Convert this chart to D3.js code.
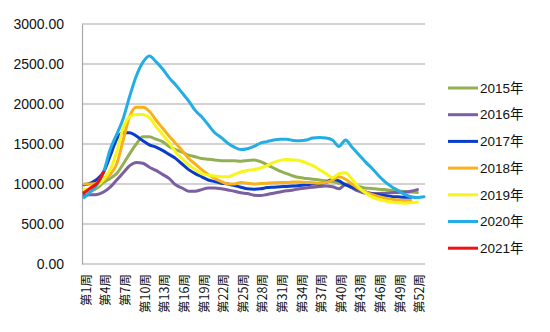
<!DOCTYPE html>
<html><head><meta charset="utf-8">
<script src="https://cdn.jsdelivr.net/npm/d3@7"></script>
<style>
html,body{margin:0;padding:0;background:#fff;}
svg{display:block;font-family:"Liberation Sans",Arial,sans-serif;}
</style></head>
<body>
<svg id="chart" width="550" height="332"></svg>
<script>
const weeks = d3.range(1, 54).map(w => "第" + w + "周");
const tickLabels = d3.range(1, 53, 3).map(w => "第" + w + "周");
const yTicks = [0, 500, 1000, 1500, 2000, 2500, 3000];
const seriesNames = ["2015年","2016年","2017年","2018年","2019年","2020年","2021年"];
const seriesColors = ["#92b051","#7b5fa0","#0a3ccc","#f9b11b","#f7f51a","#22aee4","#ee1111"];

const s2015 = [900,910,950,1020,1070,1130,1250,1380,1500,1590,1590,1560,1530,1470,1430,1400,1360,1340,1320,1310,1300,1290,1290,1290,1285,1295,1300,1280,1240,1200,1160,1130,1100,1080,1070,1060,1050,1040,1030,1010,1000,990,970,950,945,935,930,920,915,905,900,895];
const s2016 = [860,865,870,900,960,1050,1140,1230,1270,1260,1210,1170,1120,1070,990,950,910,910,930,950,950,940,925,910,890,880,860,855,870,885,900,915,925,940,950,960,970,975,965,940,995,950,910,885,880,880,885,890,895,900,910,930];
const s2017 = [990,1010,1060,1150,1350,1560,1640,1640,1600,1540,1490,1460,1420,1370,1320,1250,1180,1130,1090,1050,1030,1010,1000,980,960,940,935,940,955,960,965,970,975,980,990,1000,1000,1020,1060,1040,990,960,930,900,880,865,855,845,840,835,835];
const s2018 = [1000,1000,1010,1050,1120,1250,1550,1850,1960,1960,1910,1800,1700,1600,1510,1420,1320,1250,1180,1120,1070,1030,1000,1000,1020,1010,1000,1005,1010,1015,1020,1020,1025,1025,1020,1015,1010,1020,1050,1090,1060,1000,940,900,870,845,825,810,800,795,795];
const s2019 = [930,940,980,1060,1180,1400,1700,1840,1870,1870,1830,1720,1620,1520,1400,1320,1240,1180,1130,1110,1100,1090,1090,1120,1150,1170,1180,1200,1230,1270,1295,1305,1300,1290,1265,1230,1180,1130,1080,1130,1140,1060,960,890,840,810,790,775,765,760,765,775];
const s2020 = [830,900,990,1150,1430,1620,1820,2100,2350,2520,2600,2530,2440,2330,2240,2140,2040,1920,1840,1740,1640,1580,1510,1460,1430,1440,1470,1510,1530,1550,1560,1560,1545,1540,1550,1575,1580,1575,1550,1470,1550,1460,1370,1280,1200,1110,1030,970,920,870,840,830,840];
const s2021 = [890,950,1010,1150];

const allSeries = [s2015, s2016, s2017, s2018, s2019, s2020, s2021];

const svg = d3.select("#chart");
const plotL = 82, plotR = 425, plotT = 24, plotB = 264;

const x = d3.scalePoint().domain(weeks).range([plotL + 2, plotR - 1]);
const y = d3.scaleLinear().domain([0, 3000]).range([plotB, plotT]);

// gridlines
svg.append("g").selectAll("line").data(yTicks).join("line")
  .attr("x1", plotL).attr("x2", plotR)
  .attr("y1", d => y(d)).attr("y2", d => y(d))
  .attr("stroke", "#a6a6a6").attr("stroke-width", 1.2);

// y axis
const yAxis = svg.append("g").attr("transform", `translate(${plotL},0)`)
  .call(d3.axisLeft(y).tickValues(yTicks).tickFormat(d3.format(".2f")).tickSize(0).tickPadding(18));
yAxis.select(".domain").attr("stroke", "#a6a6a6").attr("stroke-width", 1.2);
yAxis.selectAll("text").attr("font-size", 14).attr("fill", "#111")
  .attr("font-family", "'Liberation Sans',Arial,sans-serif");

// x axis
const xAxis = svg.append("g").attr("transform", `translate(0,${plotB})`)
  .call(d3.axisBottom(x).tickValues(tickLabels).tickSize(0));
xAxis.select(".domain").remove();
xAxis.selectAll("text")
  .attr("font-size", 12.5).attr("fill", "#111")
  .attr("font-family", "'Noto Sans CJK SC',sans-serif")
  .attr("transform", "rotate(-90)")
  .attr("text-anchor", "end")
  .attr("x", -10).attr("y", 2).attr("dy", "0.35em");

// lines
const line = d3.line()
  .x((d, i) => x(weeks[i]))
  .y(d => y(d))
  .curve(d3.curveMonotoneX);

svg.append("g").selectAll("path").data(allSeries).join("path")
  .attr("d", d => line(d))
  .attr("fill", "none")
  .attr("stroke", (d, i) => seriesColors[i])
  .attr("stroke-width", 3)
  .attr("stroke-linejoin", "round")
  .attr("stroke-linecap", "round");

// legend
const lg = svg.append("g").selectAll("g").data(seriesNames).join("g")
  .attr("transform", (d, i) => `translate(448,${88 + i * 26.7})`);
lg.append("line").attr("x1", 0).attr("x2", 30).attr("y1", 0).attr("y2", 0)
  .attr("stroke", (d, i) => seriesColors[i]).attr("stroke-width", 3);
lg.append("text").attr("x", 32).attr("y", 0).attr("dy", "0.35em")
  .attr("font-size", 13.5).attr("fill", "#111")
  .attr("font-family", "'Liberation Sans','Noto Sans CJK SC',sans-serif")
  .text(d => d);
</script>
</body></html>
